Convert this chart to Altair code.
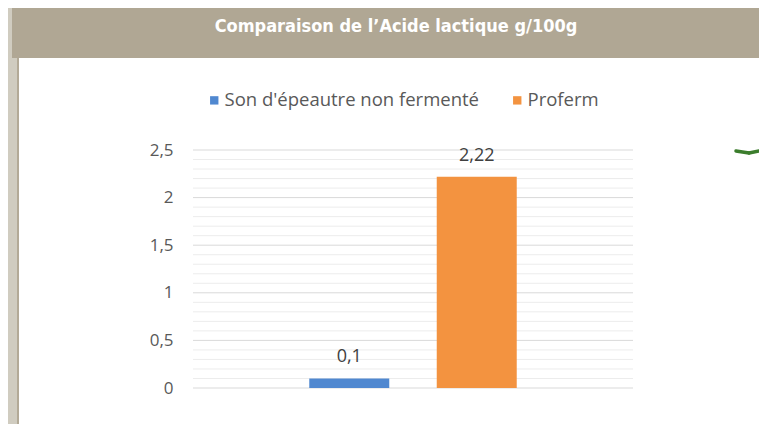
import altair as alt
import pandas as pd

# ---- data ----
series = ["Son d'épeautre non fermenté", "Proferm"]
values = [0.1, 2.22]
colors = ["#5088D0", "#F39340"]
title_text = "Comparaison de l’Acide lactique g/100g"
major_ticks = [0, 0.5, 1, 1.5, 2, 2.5]
minor_ticks = [0.1, 0.2, 0.3, 0.4, 0.6, 0.7, 0.8, 0.9, 1.1, 1.2, 1.3, 1.4,
               1.6, 1.7, 1.8, 1.9, 2.1, 2.2, 2.3, 2.4]

df = pd.DataFrame({"serie": series, "valeur": values})
one = pd.DataFrame({"t": [title_text]})
major_df = pd.DataFrame({"v": major_ticks})
minor_df = pd.DataFrame({"v": minor_ticks})

FONT = "Open Sans"

x_scale = alt.Scale(domain=series, paddingInner=0.3725, paddingOuter=0.912)
y_scale = alt.Scale(domain=[0, 2.5], nice=False, zero=True)

y_axis = alt.Axis(
    title=None,
    values=major_ticks,
    domain=False,
    ticks=False,
    grid=False,
    labelPadding=20,
    labelFont=FONT,
    labelFontSize=17,
    labelColor="#595959",
    labelOverlap=False,
    labelExpr="replace(format(datum.value, '.1~f'), '.', ',')",
)

minor_rules = alt.Chart(minor_df).mark_rule(color="#ececec", strokeWidth=1).encode(
    y=alt.Y("v:Q", scale=y_scale, axis=y_axis)
)
major_rules = alt.Chart(major_df).mark_rule(color="#d9d9d9", strokeWidth=1).encode(
    y=alt.Y("v:Q", scale=y_scale, axis=y_axis)
)

bars = alt.Chart(df).mark_bar().encode(
    x=alt.X("serie:N", scale=x_scale, axis=None, sort=series),
    y=alt.Y("valeur:Q", scale=y_scale, axis=y_axis),
    color=alt.Color(
        "serie:N",
        scale=alt.Scale(domain=series, range=colors),
        sort=series,
        legend=alt.Legend(
            title=None,
            orient="none",
            legendX=12,
            legendY=-59,
            direction="horizontal",
            symbolType="square",
            symbolSize=70,
            symbolStrokeWidth=0,
            labelFont=FONT,
            labelFontSize=18.5,
            labelColor="#595959",
            labelOffset=1,
            labelLimit=0,
            columnPadding=28,
        ),
    ),
)

labels = alt.Chart(df).transform_calculate(
    lab="replace(format(datum.valeur, '~g'), '.', ',')"
).mark_text(
    font=FONT, fontSize=18, color="#404040", baseline="alphabetic", dy=-16
).encode(
    x=alt.X("serie:N", scale=x_scale, sort=series),
    y=alt.Y("valeur:Q", scale=y_scale, axis=y_axis),
    text="lab:N",
)

# ---- slide decoration ----
grey_strip = alt.Chart(one).mark_rect(color="#d0ccc0").encode(
    x=alt.value(-185), x2=alt.value(-176), y=alt.value(-142), y2=alt.value(274)
)
dark_line = alt.Chart(one).mark_rect(color="#b3aa97").encode(
    x=alt.value(-176), x2=alt.value(-174), y=alt.value(-92), y2=alt.value(274)
)
title_bar = alt.Chart(one).mark_rect(color="#b0a794").encode(
    x=alt.value(-181), x2=alt.value(566), y=alt.value(-142), y2=alt.value(-92)
)
title = alt.Chart(one).mark_text(
    font="DejaVu Sans Condensed, Liberation Sans Narrow, sans-serif",
    fontSize=18,
    fontWeight="bold",
    color="#ffffff",
    baseline="alphabetic",
    align="center",
).encode(x=alt.value(203), y=alt.value(-118), text="t:N")

green = "#3b7d2c"
g1 = alt.Chart(one).mark_rule(color=green, strokeWidth=3.5, strokeCap="round").encode(
    x=alt.value(543), x2=alt.value(556), y=alt.value(1), y2=alt.value(3)
)
g2 = alt.Chart(one).mark_rule(color=green, strokeWidth=3.5, strokeCap="round").encode(
    x=alt.value(556), x2=alt.value(566), y=alt.value(3), y2=alt.value(1)
)

chart = alt.layer(
    grey_strip, dark_line, title_bar, title, g1, g2,
    minor_rules, major_rules, bars, labels
).properties(
    width=440,
    height=238,
    autosize=alt.AutoSizeParams(type="none"),
    padding={"left": 185, "top": 142, "right": 126, "bottom": 36},
    background="#ffffff",
).configure_view(stroke=None)

chart.save("out.html", embed_options={"renderer": "svg", "actions": False})
